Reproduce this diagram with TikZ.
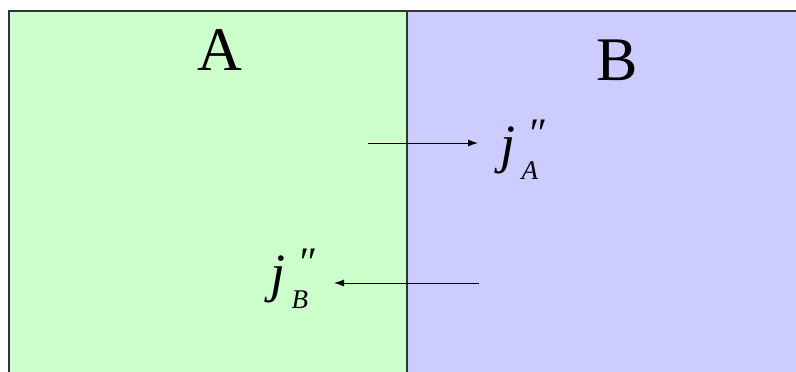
\documentclass[tikz,border=0pt]{standalone}
\usepackage{fontspec}
\setmainfont{Liberation Serif}
\usetikzlibrary{arrows.meta}
\definecolor{regA}{HTML}{CCFFCC}
\definecolor{regB}{HTML}{CCCCFF}
\tikzset{
  lbl/.style={inner sep=0pt, font=\fontsize{62}{62}\selectfont},
  flux/.style={inner sep=0pt, font=\fontsize{54}{54}\selectfont},
  arr/.style={draw, line width=0.9pt, -{Latex[length=10pt,width=7pt]}},
  wall/.style={draw=black!80, line width=1.2pt}
}
\newcommand{\fluxlbl}[1]{\textit{j}\kern0.12em\rlap{\raisebox{0.26em}{\kern0.1em\fontsize{42}{42}\selectfont\textit{″}}}\raisebox{-0.33em}{\fontsize{27}{27}\selectfont\textit{#1}}}
\begin{document}
\begin{tikzpicture}[x=1pt,y=-1pt]
\useasboundingbox (0,0) rectangle (796,372);
\fill[regA] (9,11) rectangle (407,372);
\fill[regB] (407,11) rectangle (796,372);
\draw[wall] (9,372) -- (9,11) -- (796,11);
\draw[wall] (407,11) -- (407,372);
\node[lbl, anchor=base] (A) at (220,70) {A};
\node[lbl, anchor=base] (B) at (617,80) {B};
\coordinate (a1) at (368,143);
\coordinate (a2) at (478,143);
\draw[arr] (a1) -- (a2);
\node[flux, anchor=base west] (jA) at (500,162) {\fluxlbl{A}};
\coordinate (b1) at (479,283);
\coordinate (b2) at (334,283);
\draw[arr] (b1) -- (b2);
\node[flux, anchor=base west] (jB) at (270,291) {\fluxlbl{B}};
\end{tikzpicture}
\end{document}
